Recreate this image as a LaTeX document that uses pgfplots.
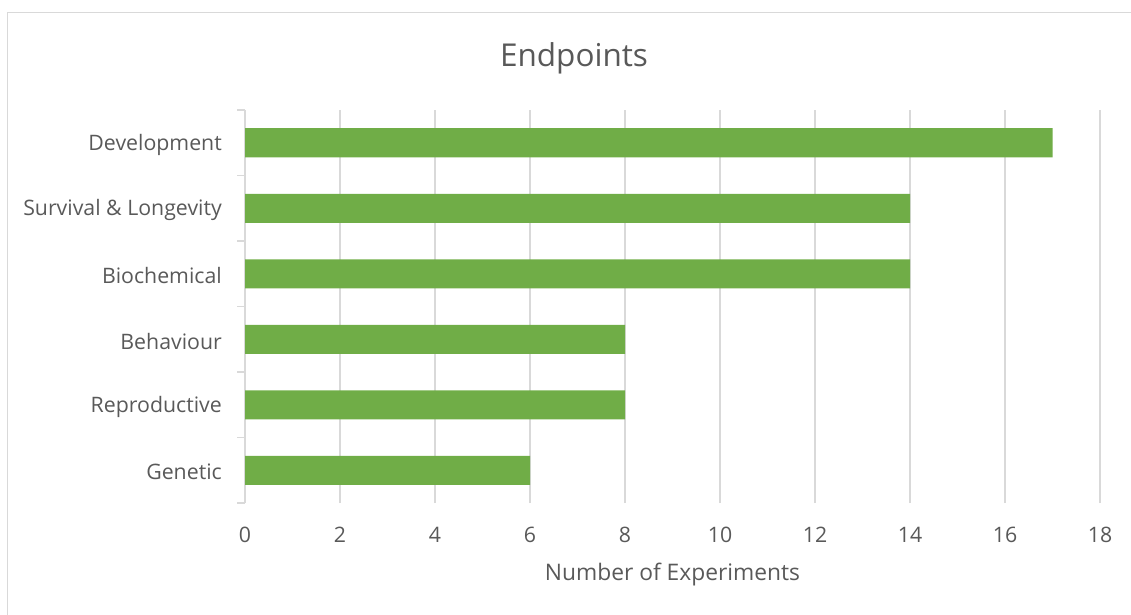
\documentclass[border=0pt]{standalone}
\usepackage{pgfplots}
\pgfplotsset{compat=1.18}
\usepackage{fontspec}
\setmainfont{Open Sans}
\definecolor{bargreen}{HTML}{70AD47}
\definecolor{gridgray}{HTML}{D9D9D9}
\definecolor{textgray}{HTML}{595959}
\begin{document}
\begin{tikzpicture}[x=1pt,y=1pt]
\useasboundingbox (0,0) rectangle (1131,614);
\begin{scope}
\clip (0,0) rectangle (1131,614);
\draw[gridgray, line width=1.2pt] (7.5,601.5) -- (1200,601.5);
\draw[gridgray, line width=1.2pt] (7.5,601.5) -- (7.5,-20);
\end{scope}
\node[textgray, font=\fontsize{31.5}{36}\selectfont] at (574,556) {Endpoints};
\begin{axis}[
  at={(245pt,111pt)}, anchor=south west,
  scale only axis, width=855pt, height=393pt,
  xbar, bar width=29pt,
  xmin=0, xmax=18, ymin=-0.5, ymax=5.5,
  xtick={0,2,...,18},
  ytick={0,1,2,3,4,5},
  yticklabels={Genetic, Reproductive, Behaviour, Biochemical, Survival \& Longevity, Development},
  minor ytick={-0.5,0.5,...,5.5},
  ytick pos=left,
  major tick length=0pt,
  minor tick length=8pt,
  tick align=outside,
  tick style={gridgray, line width=1.2pt},
  axis line style={draw=none},
  xmajorgrids, grid style={gridgray, line width=1.2pt},
  /pgf/number format/assume math mode=true,
  ticklabel style={textgray, font=\fontsize{21.3}{25}\selectfont},
  yticklabel style={anchor=east, inner sep=0pt, xshift=-23pt, yshift=-2pt},
  xticklabel style={anchor=center, inner sep=0pt, yshift=-32pt},
  xlabel={Number of Experiments},
  xlabel style={textgray, font=\fontsize{22.8}{27}\selectfont, anchor=center, at={(0.5,0)}, yshift=-72pt},
  clip=false,
]
\draw[gridgray, line width=1.2pt] (axis cs:0,-0.5) -- (axis cs:0,5.5);
\addplot[draw=none, fill=bargreen] coordinates {
  (6,0) (8,1) (8,2) (14,3) (14,4) (17,5)
};
\end{axis}
\end{tikzpicture}
\end{document}
